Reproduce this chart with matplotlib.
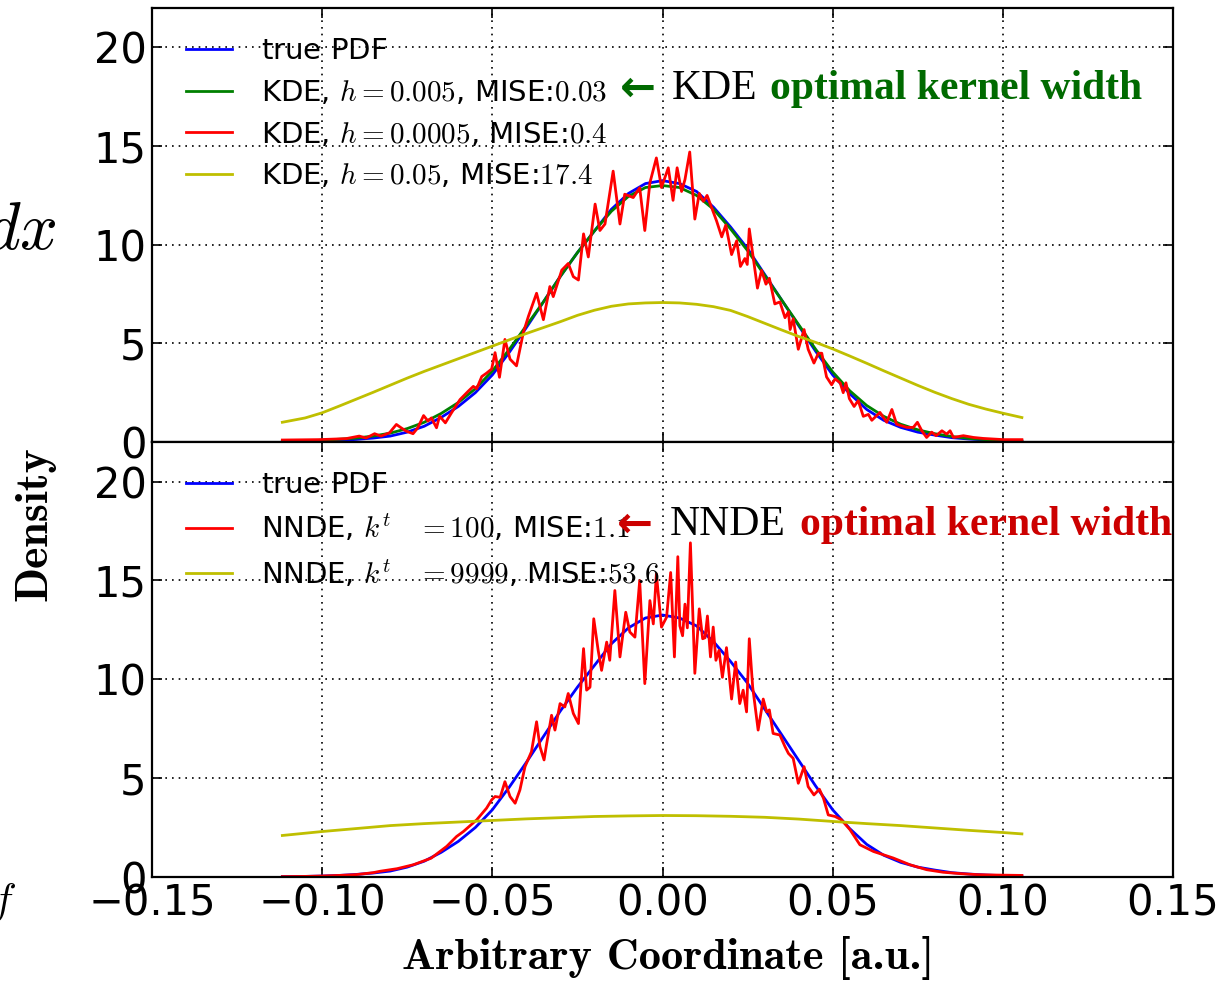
import numpy as np
import matplotlib
matplotlib.use("Agg")
import matplotlib.pyplot as plt

plt.rcParams['mathtext.fontset'] = 'cm'
plt.rcParams['font.family'] = ['DejaVu Sans']
plt.rcParams['xtick.direction'] = 'in'
plt.rcParams['ytick.direction'] = 'in'
plt.rcParams['xtick.top'] = True
plt.rcParams['ytick.right'] = True

# ---- data ----
# true PDF (same in both panels)
x_pdf = [-0.1117, -0.105, -0.10, -0.095, -0.09, -0.085, -0.08, -0.075, -0.07, -0.065,
         -0.06, -0.055, -0.05, -0.045, -0.04, -0.035, -0.03, -0.025, -0.02, -0.015,
         -0.01, -0.005, 0.0, 0.005, 0.01, 0.015, 0.02, 0.025, 0.03, 0.035,
         0.04, 0.045, 0.05, 0.055, 0.06, 0.065, 0.07, 0.075, 0.08, 0.085,
         0.09, 0.095, 0.10, 0.1056]
y_pdf = [0.02, 0.03, 0.05, 0.08, 0.13, 0.20, 0.30, 0.50, 0.80, 1.25,
         1.80, 2.50, 3.40, 4.55, 5.80, 7.10, 8.40, 9.60, 10.70, 11.80,
         12.60, 13.10, 13.25, 13.10, 12.70, 11.90, 10.90, 9.80, 8.50, 7.20,
         5.90, 4.60, 3.40, 2.45, 1.65, 1.10, 0.74, 0.50, 0.35, 0.22,
         0.15, 0.10, 0.07, 0.05]

# KDE h=0.005
y_kde_opt = [0.04, 0.06, 0.09, 0.14, 0.20, 0.30, 0.45, 0.68, 1.00, 1.45,
             2.00, 2.70, 3.60, 4.70, 5.90, 7.10, 8.40, 9.60, 10.70, 11.70,
             12.45, 12.90, 13.00, 12.90, 12.50, 11.80, 10.80, 9.70, 8.45, 7.20,
             5.95, 4.70, 3.55, 2.60, 1.85, 1.30, 0.90, 0.62, 0.42, 0.28,
             0.18, 0.12, 0.08, 0.05]

# KDE h=0.05
y_kde_wide = [1.00, 1.22, 1.48, 1.82, 2.17, 2.52, 2.88, 3.24, 3.58, 3.90,
              4.22, 4.54, 4.86, 5.18, 5.50, 5.80, 6.10, 6.42, 6.68, 6.88,
              7.00, 7.05, 7.07, 7.05, 6.98, 6.86, 6.67, 6.36, 6.02, 5.68,
              5.35, 5.05, 4.72, 4.36, 3.99, 3.61, 3.24, 2.87, 2.52, 2.20,
              1.91, 1.67, 1.46, 1.24]

# KDE h=0.0005
x_kde_narrow = [-0.1117, -0.1009, -0.0930, -0.0891, -0.0871, -0.0846, -0.0827, -0.0802, -0.0782, -0.0768,
                -0.0753, -0.0733, -0.0719, -0.0702, -0.0689, -0.0679, -0.0664, -0.0655, -0.0638, -0.0620,
                -0.0595, -0.0571, -0.0556, -0.0546, -0.0531, -0.0517, -0.0502, -0.0492, -0.0479, -0.0463,
                -0.0448, -0.0429, -0.0409, -0.0394, -0.0370, -0.0350, -0.0331, -0.0321, -0.0296, -0.0277,
                -0.0262, -0.0247, -0.0232, -0.0218, -0.0198, -0.0184, -0.0169, -0.0145, -0.0125, -0.0111,
                -0.0086, -0.0067, -0.0052, -0.0037, -0.0018, -0.0003, 0.0017, 0.0031, 0.0043, 0.0056,
                0.0066, 0.0080, 0.0095, 0.0108, 0.0120, 0.0131, 0.0144, 0.0159, 0.0174, 0.0186,
                0.0203, 0.0218, 0.0229, 0.0242, 0.0249, 0.0255, 0.0267, 0.0279, 0.0291, 0.0304,
                0.0314, 0.0330, 0.0345, 0.0360, 0.0370, 0.0375, 0.0384, 0.0399, 0.0416, 0.0428,
                0.0445, 0.0458, 0.0468, 0.0482, 0.0497, 0.0507, 0.0522, 0.0531, 0.0539, 0.0549,
                0.0563, 0.0575, 0.0590, 0.0605, 0.0615, 0.0639, 0.0659, 0.0674, 0.0688, 0.0718,
                0.0737, 0.0749, 0.0762, 0.0776, 0.0791, 0.0804, 0.0821, 0.0835, 0.0845, 0.0855,
                0.0884, 0.0914, 0.0943, 0.0973, 0.1002, 0.1056]
y_kde_narrow = [0.10, 0.12, 0.17, 0.30, 0.20, 0.42, 0.30, 0.47, 0.89, 0.72,
                0.55, 0.42, 0.72, 1.34, 1.06, 1.22, 0.72, 1.31, 0.97, 1.48,
                2.15, 2.57, 2.82, 2.70, 3.32, 3.49, 3.70, 4.53, 3.28, 5.20,
                4.20, 3.86, 5.54, 6.37, 7.54, 6.20, 7.88, 7.37, 8.71, 9.05,
                8.38, 8.21, 10.55, 9.38, 12.06, 10.72, 11.05, 13.73, 11.05, 12.56,
                12.39, 12.89, 10.72, 13.14, 14.40, 12.90, 13.90, 12.25, 13.90, 12.70,
                13.30, 14.70, 11.30, 12.60, 12.20, 12.50, 11.90, 11.20, 10.40, 11.00,
                9.50, 10.20, 8.90, 9.30, 9.00, 10.80, 9.30, 7.80, 8.70, 8.00,
                8.30, 7.00, 7.10, 6.30, 6.60, 5.70, 6.25, 4.70, 5.70, 4.70,
                4.00, 4.50, 4.50, 3.30, 2.90, 3.20, 3.00, 2.50, 3.00, 2.20,
                1.80, 2.10, 1.30, 1.40, 1.10, 1.50, 1.00, 1.65, 0.90, 0.74,
                0.74, 1.00, 0.57, 0.23, 0.50, 0.32, 0.57, 0.40, 0.57, 0.23,
                0.32, 0.23, 0.18, 0.15, 0.12, 0.12]

# NNDE k=100
x_nnde = [-0.1117, -0.105, -0.100, -0.095, -0.090, -0.085, -0.0830, -0.0780, -0.0732, -0.0680,
          -0.0634, -0.0605, -0.0585, -0.0546, -0.0517, -0.0502, -0.0492, -0.0477, -0.0463, -0.0448,
          -0.0433, -0.0419, -0.0404, -0.0385, -0.0370, -0.0360, -0.0348, -0.0341, -0.0326, -0.0316,
          -0.0301, -0.0287, -0.0277, -0.0262, -0.0247, -0.0238, -0.0232, -0.0223, -0.0213, -0.0202,
          -0.0189, -0.0179, -0.0164, -0.0155, -0.0140, -0.0125, -0.0108, -0.0096, -0.0081, -0.0067,
          -0.0052, -0.0037, -0.0027, -0.0018, -0.0003, 0.0012, 0.0024, 0.0035, 0.0045, 0.0051,
          0.0059, 0.0066, 0.0073, 0.0082, 0.0095, 0.0108, 0.0118, 0.0125, 0.0132, 0.0141,
          0.0149, 0.0157, 0.0166, 0.0176, 0.0188, 0.0203, 0.0215, 0.0227, 0.0237, 0.0247,
          0.0255, 0.0265, 0.0281, 0.0296, 0.0306, 0.0314, 0.0325, 0.0345, 0.0360, 0.0370,
          0.0384, 0.0399, 0.0416, 0.0428, 0.0445, 0.0461, 0.0473, 0.0487, 0.0507, 0.0526,
          0.0551, 0.0580, 0.0620, 0.0678, 0.0727, 0.0776, 0.0825, 0.0875, 0.0924, 0.0973,
          0.1056]
y_nnde = [0.02, 0.03, 0.05, 0.08, 0.12, 0.22, 0.29, 0.42, 0.62, 0.95,
          1.55, 2.05, 2.30, 2.89, 3.48, 3.90, 4.07, 4.03, 4.82, 4.07,
          3.73, 4.40, 5.58, 6.34, 7.85, 6.59, 5.92, 6.67, 8.18, 7.43,
          8.77, 8.60, 9.28, 8.27, 7.76, 10.10, 11.55, 9.45, 9.60, 13.06,
          11.46, 10.45, 11.88, 10.96, 14.49, 11.13, 13.39, 12.39, 12.13, 14.99,
          9.78, 13.98, 12.80, 15.33, 12.64, 13.14, 15.40, 11.13, 16.20, 12.70,
          12.20, 13.80, 12.60, 16.90, 10.30, 13.56, 12.05, 12.10, 13.20, 11.13,
          12.64, 10.96, 11.46, 10.10, 11.60, 9.00, 10.87, 8.77, 9.45, 8.35,
          12.05, 9.60, 7.43, 9.00, 8.35, 8.45, 7.26, 7.18, 6.59, 6.25,
          6.00, 4.74, 5.58, 4.57, 4.15, 4.44, 3.98, 3.14, 3.06, 2.89,
          2.39, 1.63, 1.29, 0.96, 0.62, 0.37, 0.24, 0.17, 0.12, 0.10,
          0.08]

# NNDE k=9999
x_nnde_wide = [-0.1117, -0.10, -0.09, -0.08, -0.07, -0.06, -0.05, -0.04, -0.03, -0.02, -0.01, 0.0,
               0.01, 0.02, 0.03, 0.04, 0.05, 0.06, 0.07, 0.08, 0.09, 0.10, 0.1056]
y_nnde_wide = [2.10, 2.30, 2.45, 2.60, 2.70, 2.78, 2.86, 2.94, 3.00, 3.06, 3.09, 3.11,
               3.10, 3.07, 3.02, 2.93, 2.81, 2.70, 2.60, 2.48, 2.36, 2.25, 2.18]

labels_top = [r'true PDF$\,$',
              r'KDE, $h=0.005$, MISE:$0.03$',
              r'KDE, $h=0.0005$, MISE:$0.4$',
              r'KDE, $h=0.05$, MISE:$17.4$']
labels_bot = [r'true PDF$\,$',
              r'NNDE, $k^t\quad=100$, MISE:$1.1$',
              r'NNDE, $k^t\quad=9999$, MISE:$53.6$']

W, H = 1230, 983
fig = plt.figure(figsize=(W / 100, H / 100), dpi=100)
fig.patch.set_facecolor('white')
ax1 = fig.add_axes([152 / W, 1 - 442 / H, 1021 / W, 434 / H])
ax2 = fig.add_axes([152 / W, 1 - 877 / H, 1021 / W, 435 / H])

lw = 2
ax1.plot(x_pdf, y_pdf, color='b', lw=lw, label=labels_top[0])
ax1.plot(x_pdf, y_kde_opt, color='g', lw=lw, label=labels_top[1])
ax1.plot(x_kde_narrow, y_kde_narrow, color='r', lw=lw, label=labels_top[2])
ax1.plot(x_pdf, y_kde_wide, color='y', lw=lw, label=labels_top[3])

ax2.plot(x_pdf, y_pdf, color='b', lw=lw, label=labels_bot[0])
ax2.plot(x_nnde, y_nnde, color='r', lw=lw, label=labels_bot[1])
ax2.plot(x_nnde_wide, y_nnde_wide, color='y', lw=lw, label=labels_bot[2])

for ax in (ax1, ax2):
    ax.set_xlim(-0.15, 0.15)
    ax.set_ylim(0, 22)
    ax.set_yticks([0, 5, 10, 15, 20])
    ax.set_xticks([-0.15, -0.10, -0.05, 0.0, 0.05, 0.10, 0.15])
    ax.grid(True, color='k', linestyle=(0, (1, 3)), lw=1.2)
    ax.tick_params(labelsize=30, length=7, width=1.2, pad=4)
    for s in ax.spines.values():
        s.set_linewidth(1.6)
    ax.legend(loc='upper left', bbox_to_anchor=(0, 1.01), frameon=False, fontsize=21,
              handlelength=1.6, handletextpad=1.0, labelspacing=0.47, borderaxespad=0.75)
ax1.set_xticklabels([])
ax2.set_xticklabels(['\u22120.15', '\u22120.10', '\u22120.05', '0.00', '0.05', '0.10', '0.15'])

# annotations next to the legend
serif = ['Liberation Serif', 'DejaVu Serif']
green = '#006a00'
red = '#cc0000'
fig.text(620 / W, 1 - 89 / H, '\u2190', color=green, fontsize=31, family='DejaVu Sans',
         weight='bold', va='center')
fig.text(672 / W, 1 - 89 / H, 'KDE', color='k', fontsize=30, family=serif, va='center')
fig.text(770 / W, 1 - 89 / H, 'optimal kernel width', color=green, fontsize=30,
         family=serif, weight='bold', va='center')
fig.text(617 / W, 1 - 525 / H, '\u2190', color=red, fontsize=31, family='DejaVu Sans',
         weight='bold', va='center')
fig.text(670 / W, 1 - 525 / H, 'NNDE', color='k', fontsize=30, family=serif, va='center')
fig.text(800 / W, 1 - 525 / H, 'optimal kernel width', color=red, fontsize=30,
         family=serif, weight='bold', va='center')

# axis labels
fig.text(35 / W, 1 - 524 / H, 'Density', fontsize=33, family='cmb10', rotation=90,
         ha='center', va='center')
fig.text(668 / W, 1 - 958 / H, 'Arbitrary Coordinate [a.u.]', fontsize=32, family='cmb10',
         ha='center', va='center')

# clipped fragments from the neighbouring slide content
fig.text(57 / W, 1 - 230 / H, r'$dx$', fontsize=48, ha='right', va='center')
fig.text(-9 / W, 1 - 902 / H, r'$f$', fontsize=30, ha='left', va='center')

fig.savefig('out.png', dpi=100, facecolor='white')
